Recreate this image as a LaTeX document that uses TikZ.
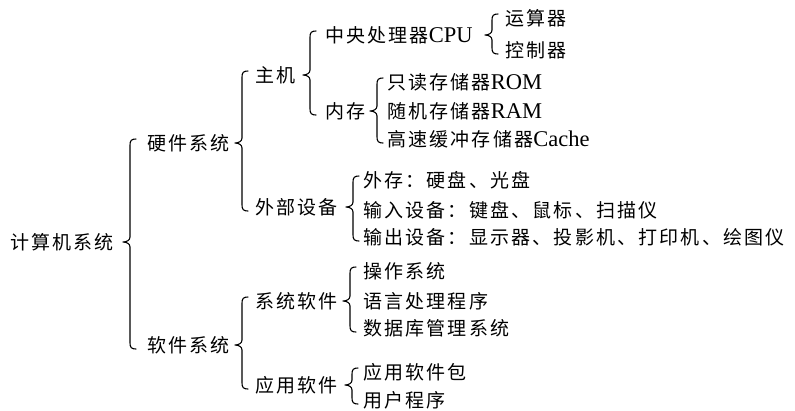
\documentclass[tikz,border=0pt]{standalone}
\usepackage{fontspec}
\setmainfont{Liberation Serif}
\newfontfamily\cjk[LetterSpace=11.5]{Noto Sans CJK SC}
\newfontfamily\latf{Liberation Serif}
\usetikzlibrary{calc}
\newcommand\La[1]{{\latf\fontsize{22.5}{24}\selectfont #1}}
\tikzset{
 lbl/.style={anchor=west, inner sep=0pt, font=\cjk\fontsize{19}{21}\selectfont, text height=16.7pt, text depth=2.3pt},
 brc/.style={line width=1.1pt, line cap=round, line join=round}
}
\newcommand\Brace[4]{%
 \draw[brc] let \p1=(#2.center), \p2=(#3.center), \p3=(#4.center) in
 (#1pt+6pt,\y2+4pt) .. controls (#1pt+1.5pt,\y2+4pt) and (#1pt,\y2+2.5pt) .. (#1pt,\y2-2pt)
 -- (#1pt,\y1+5pt) .. controls (#1pt,\y1+2pt) and (#1pt-3pt,\y1) .. (#1pt-7pt,\y1)
 .. controls (#1pt-3pt,\y1) and (#1pt,\y1-2pt) .. (#1pt,\y1-5pt)
 -- (#1pt,\y3+2pt) .. controls (#1pt,\y3-2.5pt) and (#1pt+1.5pt,\y3-4pt) .. (#1pt+6pt,\y3-4pt);
}
\begin{document}
\begin{tikzpicture}[x=1pt,y=-1pt]
\useasboundingbox (0,0) rectangle (795,410);
\node[lbl] (sys) at (10,242) {计算机系统};
\node[lbl] (hw) at (147,143) {硬件系统};
\node[lbl] (sw) at (147,345) {软件系统};
\node[lbl] (host) at (255,75) {主机};
\node[lbl] (per) at (255,207) {外部设备};
\node[lbl] (cpu) at (325,35) {中央处理器\La{CPU}};
\node[lbl] (mem) at (325,111) {内存};
\node[lbl] (alu) at (505,18) {运算器};
\node[lbl] (ctl) at (505,50) {控制器};
\node[lbl] (rom) at (387,82) {只读存储器\La{ROM}};
\node[lbl] (ram) at (387,111) {随机存储器\La{RAM}};
\node[lbl] (cache) at (387,139) {高速缓冲存储器\La{Cache}};
\node[lbl] (ext) at (363,180) {外存：硬盘、光盘};
\node[lbl] (inp) at (363,210) {输入设备：键盘、鼠标、扫描仪};
\node[lbl] (outp) at (363,237) {输出设备：显示器、投影机、打印机、绘图仪};
\node[lbl] (ssw) at (255,301) {系统软件};
\node[lbl] (asw) at (255,385) {应用软件};
\node[lbl] (os) at (363,271) {操作系统};
\node[lbl] (lang) at (363,301) {语言处理程序};
\node[lbl] (db) at (363,328) {数据库管理系统};
\node[lbl] (pkg) at (363,372) {应用软件包};
\node[lbl] (user) at (363,400) {用户程序};
\Brace{130}{sys}{hw}{sw}
\Brace{242}{hw}{host}{per}
\Brace{242}{sw}{ssw}{asw}
\Brace{310}{host}{cpu}{mem}
\Brace{492}{cpu}{alu}{ctl}
\Brace{377}{mem}{rom}{cache}
\Brace{353}{per}{ext}{outp}
\Brace{350}{ssw}{os}{db}
\Brace{352}{asw}{pkg}{user}
\end{tikzpicture}
\end{document}
